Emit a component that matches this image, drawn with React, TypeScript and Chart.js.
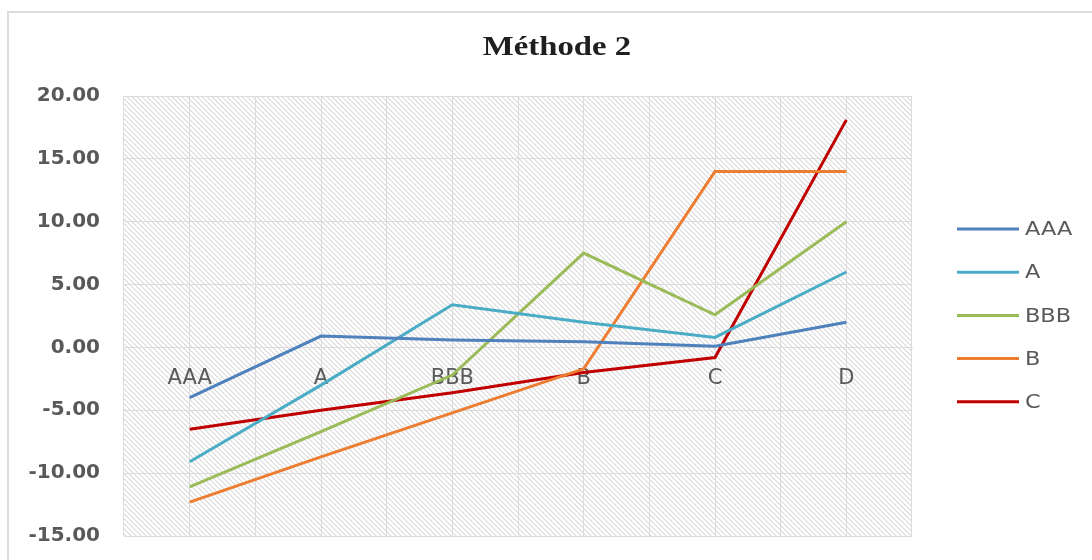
import React, { useEffect, useRef } from "react";
import { Chart, registerables } from "chart.js";

Chart.register(...registerables);

// Rating categories along the horizontal axis
const categories = ["AAA", "A", "BBB", "B", "C", "D"];

// One series per starting rating
const seriesNames = ["AAA", "A", "BBB", "B", "C"];
const seriesColors = ["#4F81BD", "#4BACC6", "#9BBB59", "#ED7D31", "#C00000"];

const aaaValues = [-4.0, 0.9, 0.6, 0.45, 0.1, 2.0];
const aValues = [-9.1, -3.0, 3.4, 2.0, 0.8, 6.0];
const bbbValues = [-11.1, -6.7, -2.2, 7.5, 2.6, 10.0];
const bValues = [-12.3, -8.7, -5.2, -1.7, 14.0, 14.0];
const cValues = [-6.5, -5.0, -3.6, -2.0, -0.8, 18.1];

const seriesValues = [aaaValues, aValues, bbbValues, bValues, cValues];

// Value axis
const yMin = -15;
const yMax = 20;
const yStep = 5;

const titleText = "Méthode 2";

const WIDTH = 1092;
const HEIGHT = 560;
const GRID = "#dcdcdc";
const TEXT = "#595959";

function makeHatch(ctx: CanvasRenderingContext2D): CanvasPattern | string {
  const n = 5;
  const tile = document.createElement("canvas");
  tile.width = n;
  tile.height = n;
  const t = tile.getContext("2d");
  if (!t) return "#ffffff";
  t.fillStyle = "#ffffff";
  t.fillRect(0, 0, n, n);
  for (let i = 0; i < n; i++) {
    t.fillStyle = "#d9d9d9";
    t.fillRect(i, i, 1, 1);
    t.fillStyle = "#eeeeee";
    t.fillRect((i + 1) % n, i, 1, 1);
  }
  return ctx.createPattern(tile, "repeat") || "#ffffff";
}

// Frame, hatched plot background, title and legend
const decorPlugin = {
  id: "decor",
  beforeDraw(chart: any) {
    const { ctx, chartArea } = chart;
    ctx.save();
    ctx.fillStyle = "#ffffff";
    ctx.fillRect(0, 0, WIDTH, HEIGHT);
    ctx.strokeStyle = GRID;
    ctx.lineWidth = 2;
    ctx.beginPath();
    ctx.moveTo(8, HEIGHT);
    ctx.lineTo(8, 12);
    ctx.lineTo(WIDTH, 12);
    ctx.stroke();
    ctx.fillStyle = makeHatch(ctx);
    ctx.fillRect(
      chartArea.left,
      chartArea.top,
      chartArea.right - chartArea.left,
      chartArea.bottom - chartArea.top
    );
    ctx.restore();
  },
  afterDraw(chart: any) {
    const { ctx } = chart;
    ctx.save();
    // title
    ctx.fillStyle = "#1f1f1f";
    ctx.font = "bold 28px 'Liberation Serif'";
    ctx.textAlign = "center";
    ctx.textBaseline = "alphabetic";
    ctx.translate(557, 55);
    ctx.scale(1.17, 1);
    ctx.fillText(titleText, 0, 0);
    ctx.restore();

    // legend
    chart.data.datasets.forEach((ds: any, i: number) => {
      const y = 229 + i * 43.2;
      ctx.save();
      ctx.strokeStyle = ds.borderColor;
      ctx.lineWidth = 3;
      ctx.beginPath();
      ctx.moveTo(957, y);
      ctx.lineTo(1019, y);
      ctx.stroke();
      ctx.font = "20px 'DejaVu Sans'";
      ctx.textAlign = "left";
      ctx.textBaseline = "middle";
      ctx.fillStyle = TEXT;
      ctx.translate(1025, y + 1);
      ctx.scale(1.12, 1);
      ctx.fillText(ds.label, 0, 0);
      ctx.restore();
    });
  },
};

export default function App() {
  const canvasRef = useRef<HTMLCanvasElement | null>(null);

  useEffect(() => {
    const canvas = canvasRef.current;
    if (!canvas) return;
    const chart = new Chart(canvas, {
      type: "line",
      data: {
        labels: categories,
        datasets: seriesNames.map((name, i) => ({
          label: name,
          data: seriesValues[i],
          borderColor: seriesColors[i],
          backgroundColor: seriesColors[i],
          borderWidth: 3,
          pointRadius: 0,
          tension: 0,
          fill: false,
        })),
      },
      options: {
        responsive: false,
        animation: false,
        devicePixelRatio: 1,
        layout: { padding: { left: 0, right: WIDTH - 912, top: 96, bottom: HEIGHT - 536 } },
        plugins: {
          legend: { display: false },
          title: { display: false },
          tooltip: { enabled: false },
        },
        scales: {
          x: {
            type: "category",
            offset: true,
            position: { y: 0 },
            afterFit: (scale: any) => {
              scale.paddingLeft = 0;
              scale.paddingRight = 0;
            },
            grid: { display: true, color: GRID, lineWidth: 1, drawTicks: false, offset: false },
            border: { display: true, color: GRID, width: 1 },
            ticks: {
              color: TEXT,
              font: { family: "'DejaVu Sans'", size: 21 },
              padding: 19,
              maxRotation: 0,
              autoSkip: false,
            },
          },
          x2: {
            type: "category",
            offset: true,
            position: "bottom",
            afterFit: (scale: any) => {
              scale.height = 0;
              scale.paddingLeft = 0;
              scale.paddingRight = 0;
            },
            grid: { display: true, color: GRID, lineWidth: 1, drawTicks: false, offset: true },
            border: { display: false },
            ticks: { display: false, padding: 0 },
          },
          y: {
            type: "linear",
            min: yMin,
            max: yMax,
            position: "left",
            afterFit: (scale: any) => {
              scale.width = 124;
              scale.paddingTop = 0;
              scale.paddingBottom = 0;
            },
            grid: { color: GRID, lineWidth: 1, drawTicks: false },
            border: { display: false },
            ticks: {
              stepSize: yStep,
              color: TEXT,
              padding: 24,
              font: { family: "'DejaVu Sans'", size: 20, weight: "bold" },
              callback: (v: any) => Number(v).toFixed(2),
            },
          },
        },
      },
      plugins: [decorPlugin],
    });
    return () => chart.destroy();
  }, []);

  return (
    <canvas
      ref={canvasRef}
      width={WIDTH}
      height={HEIGHT}
      style={{ position: "fixed", left: 0, top: 0, width: WIDTH, height: HEIGHT, display: "block" }}
    />
  );
}
